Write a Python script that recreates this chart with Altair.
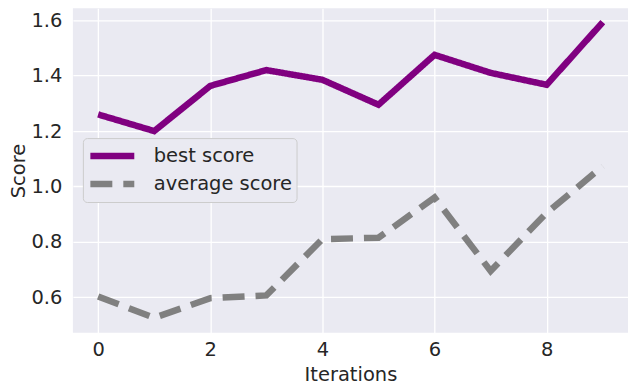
import altair as alt
import pandas as pd

iterations = [0, 1, 2, 3, 4, 5, 6, 7, 8, 9]
best_score = [1.26, 1.20, 1.363, 1.42, 1.385, 1.295, 1.475, 1.41, 1.367, 1.593]
average_score = [0.603, 0.526, 0.597, 0.607, 0.81, 0.815, 0.96, 0.695, 0.905, 1.073]
series_names = ["best score", "average score"]
x_ticks = [0, 2, 4, 6, 8]
y_ticks = [0.6, 0.8, 1.0, 1.2, 1.4, 1.6]

rows = []
for name, vals in zip(series_names, [best_score, average_score]):
    for i, v in zip(iterations, vals):
        rows.append({"Iterations": i, "Score": v, "series": name})
df = pd.DataFrame(rows)

FONT = "DejaVu Sans"
TXT = "#262626"
FS = 19.5

base = alt.Chart(df).encode(
    x=alt.X("Iterations:Q",
            scale=alt.Scale(domain=[-0.45, 9.45], nice=False, zero=False),
            axis=alt.Axis(values=x_ticks, format="d", title="Iterations")),
    y=alt.Y("Score:Q",
            scale=alt.Scale(domain=[0.472, 1.643], nice=False, zero=False),
            axis=alt.Axis(values=y_ticks, format=".1f", title="Score")),
    order="Iterations:Q",
)

legend = alt.Legend(
    title=None, orient="none", legendX=10, legendY=130,
    symbolType="stroke", symbolSize=1936, symbolStrokeWidth=6.5,
    clipHeight=28,
    labelFontSize=FS, labelFont=FONT, labelColor=TXT,
    fillColor="#EAEAF2", strokeColor="#CCCCCC", cornerRadius=4,
    padding=4, rowPadding=0, labelOffset=16, labelLimit=300,
)

lines = base.mark_line(strokeWidth=6.5, strokeCap="butt").encode(
    color=alt.Color("series:N",
                    scale=alt.Scale(domain=series_names, range=["#800080", "#808080"]),
                    legend=legend),
    strokeDash=alt.StrokeDash("series:N",
                              scale=alt.Scale(domain=series_names, range=[[1, 0], [22, 11]]),
                              legend=legend),
)

chart = lines.properties(
    width=556, height=325,
    autosize=alt.AutoSizeParams(type="none"),
    padding={"left": 65, "top": 0, "right": 0, "bottom": 60},
).configure_view(
    fill="#EAEAF2", stroke=None
).configure_axis(
    domain=False, ticks=False, grid=True, gridColor="white", gridWidth=1.3,
    labelFont=FONT, labelFontSize=FS, labelColor=TXT,
    titleFont=FONT, titleFontSize=FS, titleColor=TXT, titleFontWeight="normal",
).configure_axisX(
    labelPadding=8, titlePadding=6,
).configure_axisY(
    labelPadding=11, titlePadding=2,
)

chart.save("out.html", embed_options={"renderer": "svg", "actions": False})
